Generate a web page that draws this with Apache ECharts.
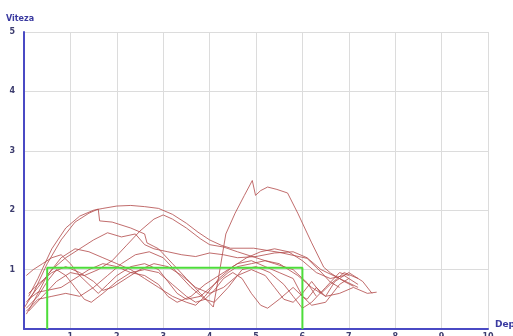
<!DOCTYPE html>
<html>
<head>
<meta charset="utf-8">
<script src="https://cdn.jsdelivr.net/npm/echarts@6/dist/echarts.min.js"></script>
<style>
  html, body { margin: 0; padding: 0; background: #ffffff; }
  #chart { width: 513px; height: 336px; }
</style>
</head>
<body>
<div id="chart"></div>
<script>
// Axis ticks
const xTicks = [0, 1, 2, 3, 4, 5, 6, 7, 8, 9, 10];
const yTicks = [0, 1, 2, 3, 4, 5];

// Reference profile: [deplasare, viteza]
const reference = [[0.5, 0], [0.5, 1.03], [6.0, 1.03], [6.0, 0]];

// Recorded runs: [deplasare, viteza]
const run1 = [[0.1,0.55],[0.3,0.85],[0.6,1.35],[0.9,1.7],[1.2,1.9],[1.5,2.0],[1.7,2.03],[2.0,2.07],[2.3,2.08],[2.6,2.06],[2.9,2.03],[3.2,1.93],[3.5,1.78],[3.75,1.63],[4.0,1.5],[4.25,1.41],[4.45,1.36],[4.95,1.36],[5.5,1.29],[6.1,1.19],[6.4,0.96],[6.6,0.79],[6.8,0.7]];
const run2 = [[0.0,0.35],[0.2,0.6],[0.5,1.1],[0.8,1.5],[1.1,1.8],[1.4,1.95],[1.6,2.02],[1.63,1.82],[1.9,1.8],[2.3,1.7],[2.6,1.6],[2.65,1.45],[2.9,1.35],[3.2,1.1],[3.5,0.85],[3.8,0.6],[4.08,0.37],[4.2,0.9],[4.35,1.6],[4.55,1.95],[4.75,2.25],[4.92,2.5],[4.99,2.25],[5.1,2.33],[5.25,2.39],[5.45,2.35],[5.68,2.29],[5.9,1.95],[6.2,1.45],[6.46,1.04],[6.61,0.94],[6.9,0.8],[7.1,0.72]];
const run3 = [[0.05,0.45],[0.3,0.7],[0.6,1.0],[0.9,1.2],[1.2,1.35],[1.5,1.5],[1.8,1.62],[2.1,1.55],[2.4,1.6],[2.6,1.42],[2.8,1.35],[3.1,1.3],[3.4,1.25],[3.7,1.22],[4.0,1.28],[4.3,1.25],[4.6,1.2],[5.0,1.22],[5.4,1.28],[5.8,1.3],[6.1,1.2],[6.4,1.0],[6.8,0.85],[7.2,0.7]];
const run4 = [[0.1,0.3],[0.4,0.55],[0.7,0.8],[1.0,0.95],[1.3,0.9],[1.6,1.0],[1.9,1.15],[2.2,1.4],[2.5,1.65],[2.8,1.85],[3.0,1.92],[3.2,1.85],[3.5,1.7],[3.8,1.52],[4.0,1.42],[4.3,1.38],[4.6,1.3],[5.0,1.2],[5.4,1.1],[5.8,1.0],[6.1,0.78],[6.3,0.55]];
const run5 = [[0.05,0.9],[0.2,1.0],[0.4,1.1],[0.6,1.2],[0.8,1.25],[1.0,1.1],[1.2,0.9],[1.4,0.75],[1.6,0.6],[1.8,0.75],[2.0,0.9],[2.3,1.05],[2.6,1.1],[2.9,1.0],[3.1,0.8],[3.3,0.6],[3.5,0.5],[3.8,0.55],[4.1,0.75],[4.4,0.95],[4.6,1.05],[4.9,1.1],[5.2,1.15],[5.5,1.1],[5.9,0.9],[6.2,0.7],[6.5,0.55],[6.8,0.6],[7.1,0.7],[7.4,0.6],[7.6,0.62]];
const run6 = [[0.05,0.35],[0.3,0.55],[0.5,0.8],[0.7,1.0],[0.9,0.9],[1.1,0.7],[1.3,0.5],[1.45,0.45],[1.7,0.6],[2.0,0.8],[2.3,0.95],[2.6,1.0],[2.9,0.95],[3.2,0.75],[3.5,0.55],[3.7,0.45],[3.9,0.5],[4.1,0.65],[4.3,0.85],[4.5,0.95],[4.7,0.85],[4.9,0.6],[5.1,0.4],[5.25,0.35],[5.5,0.5],[5.8,0.7],[6.0,0.55],[6.2,0.4],[6.5,0.45],[6.8,0.75],[7.0,0.85]];
const run7 = [[0.1,0.5],[0.3,0.62],[0.5,0.65],[0.8,0.7],[1.1,0.85],[1.4,1.0],[1.7,1.1],[2.0,1.05],[2.3,0.95],[2.6,0.9],[2.9,0.75],[3.1,0.55],[3.3,0.45],[3.6,0.55],[3.9,0.75],[4.2,0.9],[4.4,1.0],[4.6,1.1],[4.9,1.15],[5.2,1.05],[5.5,0.95],[5.8,0.85],[6.0,0.55],[6.1,0.5],[6.3,0.7],[6.5,0.55],[6.7,0.8],[7.0,0.95],[7.3,0.8],[7.5,0.6]];
const run8 = [[0.05,0.25],[0.2,0.45],[0.5,0.9],[0.8,1.2],[1.1,1.35],[1.4,1.3],[1.7,1.2],[2.0,1.1],[2.3,1.0],[2.6,0.85],[2.9,0.7],[3.2,0.55],[3.5,0.45],[3.7,0.4],[3.9,0.55],[4.2,0.85],[4.5,1.05],[4.8,1.2],[5.1,1.3],[5.4,1.35],[5.7,1.3],[6.0,1.15],[6.3,0.95],[6.6,0.85],[6.9,0.9],[7.2,0.75]];
const run9 = [[0.1,0.6],[0.3,0.75],[0.6,0.95],[0.9,1.05],[1.2,0.95],[1.5,0.8],[1.7,0.65],[1.9,0.7],[2.2,0.85],[2.5,1.0],[2.8,1.1],[3.1,1.05],[3.4,0.9],[3.7,0.7],[4.0,0.6],[4.3,0.7],[4.6,0.9],[4.9,1.0],[5.2,0.9],[5.4,0.7],[5.6,0.5],[5.8,0.45],[6.0,0.6],[6.2,0.8],[6.4,0.6],[6.6,0.75],[6.9,0.95],[7.2,0.85]];
const run10 = [[0.05,0.3],[0.3,0.5],[0.6,0.55],[0.9,0.6],[1.2,0.55],[1.5,0.7],[1.8,0.9],[2.1,1.1],[2.4,1.25],[2.7,1.3],[3.0,1.2],[3.3,0.95],[3.6,0.7],[3.9,0.5],[4.1,0.45],[4.4,0.7],[4.7,1.0],[5.0,1.05],[5.3,0.95],[5.6,0.75],[5.8,0.55],[6.0,0.35],[6.2,0.45],[6.5,0.7],[6.8,0.95],[7.0,0.9]];

const runs = [run1, run2, run3, run4, run5, run6, run7, run8, run9, run10];

const axisBlue = '#4a4ac4';
const labelColor = '#3c3c6e';

const chart = echarts.init(document.getElementById('chart'), null, { renderer: 'canvas' });

const runSeries = runs.map((d, i) => ({
  name: 'run' + (i + 1),
  type: 'line',
  data: d,
  showSymbol: false,
  smooth: false,
  silent: true,
  lineStyle: { color: '#b24848', width: 1, opacity: 0.8 },
  z: 2
}));

chart.setOption({
  animation: false,
  backgroundColor: '#ffffff',
  grid: { left: 24, right: 25, top: 32, bottom: 7, containLabel: false, outerBoundsMode: 'none' },
  xAxis: {
    type: 'value',
    min: xTicks[0],
    max: xTicks[xTicks.length - 1],
    interval: 1,
    name: 'Deplasare',
    nameLocation: 'end',
    nameGap: 7,
    nameTextStyle: { color: '#3a3aa0', fontWeight: 'bold', fontSize: 9, fontFamily: 'DejaVu Sans', verticalAlign: 'bottom' },
    axisLine: { show: true, onZero: false, lineStyle: { color: axisBlue, width: 2 } },
    axisTick: { show: false },
    axisLabel: { showMinLabel: false, color: labelColor, fontWeight: 'bold', fontSize: 8, fontFamily: 'DejaVu Sans', margin: 4 },
    splitLine: { show: true, lineStyle: { color: '#dcdcdc', width: 1 } }
  },
  yAxis: {
    type: 'value',
    min: yTicks[0],
    max: yTicks[yTicks.length - 1],
    interval: 1,
    name: 'Viteza',
    nameLocation: 'end',
    nameGap: 9,
    nameTextStyle: { color: '#3a3aa0', fontWeight: 'bold', fontSize: 8, fontFamily: 'DejaVu Sans', align: 'center', padding: [0, 8, 0, 0] },
    axisLine: { show: true, lineStyle: { color: axisBlue, width: 2 } },
    axisTick: { show: false },
    axisLabel: { showMinLabel: false, color: labelColor, fontWeight: 'bold', fontSize: 8, fontFamily: 'DejaVu Sans', margin: 9 },
    splitLine: { show: true, lineStyle: { color: '#dcdcdc', width: 1 } }
  },
  series: runSeries.concat([{
    name: 'referinta',
    type: 'line',
    data: reference,
    showSymbol: false,
    silent: true,
    lineStyle: { color: '#4ddd3a', width: 2 },
    z: 3
  }])
});
</script>
</body>
</html>
